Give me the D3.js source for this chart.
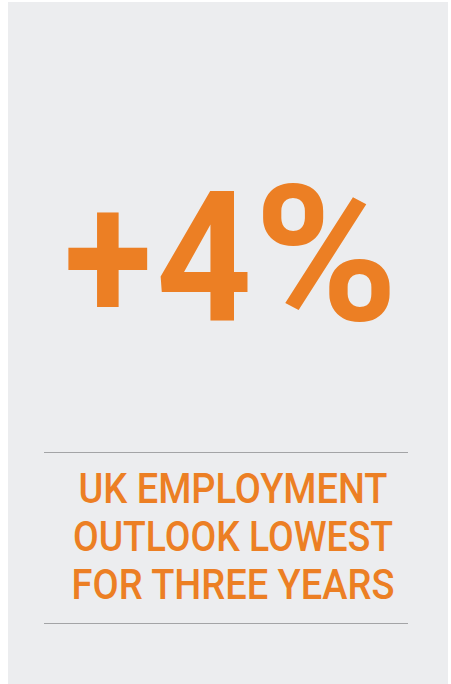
<!DOCTYPE html>
<html>
<head>
<meta charset="utf-8">
<script src="https://cdn.jsdelivr.net/npm/d3@7"></script>
<style>
  html, body { margin: 0; padding: 0; background: #ffffff; }
  svg { display: block; }
</style>
</head>
<body>
<div id="chart"></div>
<script>
const headline = ["+", "4", "%"];
const captionLines = ["UK EMPLOYMENT", "OUTLOOK LOWEST", "FOR THREE YEARS"];
const dividers = ["top", "bottom"];

const W = 451, H = 684;
const orange = "#EC7F24";
const svg = d3.select("#chart").append("svg").attr("width", W).attr("height", H);

svg.append("rect").attr("x", 8).attr("y", 2).attr("width", 440).attr("height", H - 2).attr("fill", "#ECEDEF");

// headline glyphs laid out along a band scale
const glyphX = { "+": [64, 88], "4": [156, 96], "%": [254, 144] };
const glyphSize = { "+": 182, "4": 182, "%": 190 };
svg.selectAll("text.head").data(headline).join("text")
  .attr("class", "head")
  .attr("x", d => glyphX[d][0]).attr("y", 320)
  .attr("font-family", "Roboto, 'DejaVu Sans', sans-serif")
  .attr("font-weight", 700)
  .attr("font-size", d => glyphSize[d])
  .attr("fill", orange)
  .attr("textLength", d => glyphX[d][1])
  .attr("lengthAdjust", "spacingAndGlyphs")
  .text(d => d);

// dividers
const yDiv = d3.scalePoint().domain(dividers).range([452.5, 623.5]);
svg.selectAll("line.div").data(dividers).join("line")
  .attr("class", "div")
  .attr("x1", 44).attr("x2", 408)
  .attr("y1", d => yDiv(d)).attr("y2", d => yDiv(d))
  .attr("stroke", "#A3A4A6").attr("stroke-width", 1.2);

// caption
const yCap = d3.scalePoint().domain(captionLines).range([503, 599]);
const widths = { "UK EMPLOYMENT": 309, "OUTLOOK LOWEST": 320, "FOR THREE YEARS": 323 };
svg.selectAll("text.cap").data(captionLines).join("text")
  .attr("class", "cap")
  .attr("x", 233).attr("y", d => yCap(d))
  .attr("text-anchor", "middle")
  .attr("font-family", "Roboto, 'DejaVu Sans', sans-serif")
  .attr("font-weight", 500)
  .attr("font-size", 42)
  .attr("fill", orange)
  .attr("textLength", d => widths[d])
  .attr("lengthAdjust", "spacingAndGlyphs")
  .text(d => d);
</script>
</body>
</html>
